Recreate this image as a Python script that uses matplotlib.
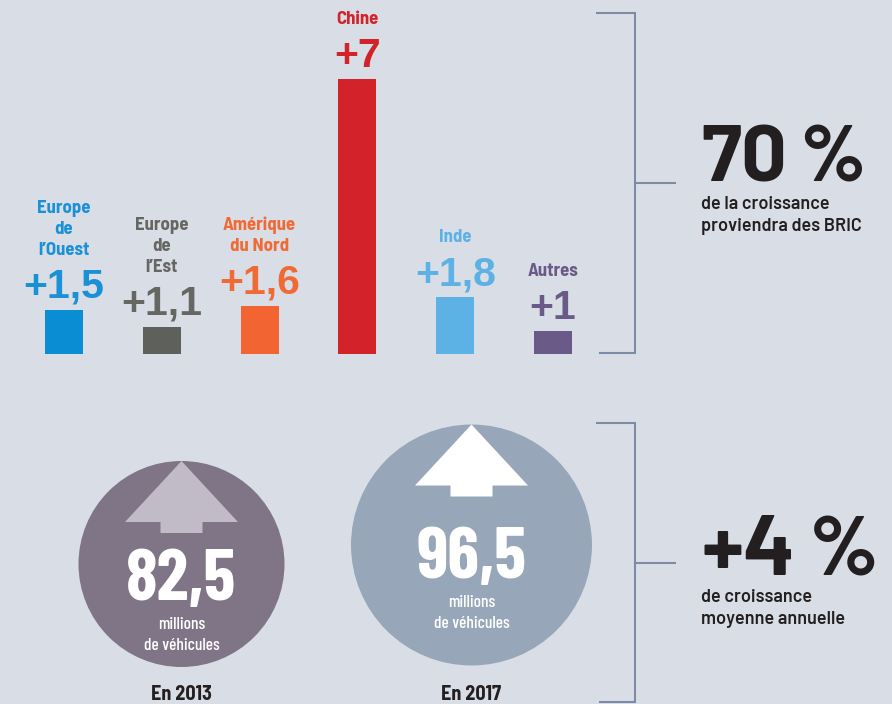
import matplotlib
matplotlib.use("Agg")
import matplotlib.pyplot as plt
from matplotlib.patches import Circle, Polygon

# ---------------- data ----------------
regions = [["Europe", "de", "l\u2019Ouest"], ["Europe", "de", "l\u2019Est"],
           ["Am\u00e9rique", "du Nord"], ["Chine"], ["Inde"], ["Autres"]]
growth = [1.5, 1.1, 1.6, 7, 1.8, 1]
bar_colors = ["#0b8dd3", "#5e605b", "#f26532", "#d2232a", "#5cb2e4", "#6a5a87"]
text_colors = ["#1a90d6", "#666762", "#f06a35", "#d2232a", "#5cb2e4", "#6a5a87"]

years = ["En 2013", "En 2017"]
vehicles = [82.5, 96.5]          # millions de véhicules
circle_colors = ["#807487", "#97a6b8"]
arrow_colors = ["#c1bbc7", "#ffffff"]

bric_share = "70"
annual_growth = "+4"

BG = "#d9dee6"
BRACKET = "#7d8ca6"
DARK = "#231f20"
COND = ["Barlow Condensed", "DejaVu Sans"]
SEMI = ["Barlow Semi Condensed", "Barlow Condensed", "DejaVu Sans"]
DIN = ["Barlow", "Liberation Sans", "DejaVu Sans"]
SANS = ["Liberation Sans", "DejaVu Sans"]

W, H = 892, 704
fig = plt.figure(figsize=(W / 100, H / 100), dpi=100, facecolor=BG)

# overlay axes in pixel coordinates
ov = fig.add_axes([0, 0, 1, 1])
ov.set_xlim(0, W)
ov.set_ylim(H, 0)
ov.axis("off")
ov.patch.set_visible(False)

# ---------------- bar chart ----------------
base_px = 354
spacing = 97.8
x0 = 64
px_per_unit = 42
y_base = 0.452
ax = fig.add_axes([0, (H - base_px) / H, 1, base_px / H])
ax.set_xlim(-x0 / spacing, (W - x0) / spacing)
ax.set_ylim(y_base, y_base + base_px / px_per_unit)
ax.axis("off")
ax.patch.set_visible(False)

xs = list(range(len(growth)))
ax.bar(xs, growth, width=38 / spacing, color=bar_colors, zorder=2)

for i, (v, lab, tc) in enumerate(zip(growth, regions, text_colors)):
    s = ("+%g" % v).replace(".", ",")
    ax.annotate(s, xy=(i, v), xytext=(0, 12), textcoords="offset pixels",
                ha="center", va="baseline", fontsize=29.5, fontweight="bold",
                color=tc, family=SANS, annotation_clip=False)
    n = len(lab)
    for j, line in enumerate(lab):
        off = 55 + 21 * (n - 1 - j)
        ax.annotate(line, xy=(i, v), xytext=(0, off), textcoords="offset pixels",
                    ha="center", va="baseline", fontsize=13.5, fontweight="bold",
                    color=tc, family=SEMI, annotation_clip=False)

# ---------------- brackets ----------------
def bracket(top, bottom, mid, x=635):
    ov.plot([597, x, x, 600], [top, top, bottom, bottom], color=BRACKET, lw=1.5,
            solid_joinstyle="miter")
    ov.plot([x, 675], [mid, mid], color=BRACKET, lw=1.5)

bracket(13, 353, 183)
bracket(423, 702, 563)

ov.text(701, 181, bric_share, fontsize=58, fontweight="bold", color=DARK,
        family=DIN, ha="left", va="baseline")
ov.text(866, 181, "%", fontsize=58, fontweight="bold", color=DARK,
        family=DIN, ha="right", va="baseline")
ov.text(701, 209, "de la croissance", fontsize=13, fontweight="semibold",
        color=DARK, family=DIN, ha="left", va="baseline")
ov.text(701, 231, "proviendra des BRIC", fontsize=13, fontweight="semibold",
        color=DARK, family=DIN, ha="left", va="baseline")

ov.text(701, 575, annual_growth, fontsize=62, fontweight="bold", color=DARK,
        family=DIN, ha="left", va="baseline")
ov.text(809, 575, "%", fontsize=61, fontweight="bold", color=DARK,
        family=DIN, ha="left", va="baseline")
ov.text(701, 602, "de croissance", fontsize=13, fontweight="semibold",
        color=DARK, family=DIN, ha="left", va="baseline")
ov.text(701, 624, "moyenne annuelle", fontsize=13, fontweight="semibold",
        color=DARK, family=DIN, ha="left", va="baseline")

# ---------------- circles ----------------
r_per_unit = 103 / 82.5
centers = [(181.5, 564), (471.5, 545)]
num_off = [36, 33]
for (cx, cy), val, yr, cc, ac, no in zip(centers, vehicles, years,
                                         circle_colors, arrow_colors, num_off):
    r = val * r_per_unit
    ov.add_patch(Circle((cx, cy), r, facecolor=cc, edgecolor="none", zorder=1))
    tip = cy - r
    arrow = [(cx, tip), (cx + 56.5, tip + 61), (cx + 21, tip + 61),
             (cx + 21, tip + 72), (cx - 21, tip + 72), (cx - 21, tip + 61),
             (cx - 56.5, tip + 61)]
    ov.add_patch(Polygon(arrow, closed=True, facecolor=ac, edgecolor="none",
                         zorder=2))
    ov.text(cx, cy + no, ("%g" % val).replace(".", ","), fontsize=52,
            fontweight="bold", color="white", family=COND, ha="center",
            va="baseline", zorder=3)
    ov.text(cx, cy + no + 29, "millions", fontsize=12.5, fontweight="medium",
            color="white", family=COND, ha="center", va="baseline", zorder=3)
    ov.text(cx, cy + no + 50, "de v\u00e9hicules", fontsize=12.5,
            fontweight="medium", color="white", family=COND, ha="center",
            va="baseline", zorder=3)
    ov.text(cx, 700, yr, fontsize=14.5, fontweight="bold", color=DARK,
            family=SEMI, ha="center", va="baseline")

fig.savefig("out.png", dpi=100, facecolor=BG)
